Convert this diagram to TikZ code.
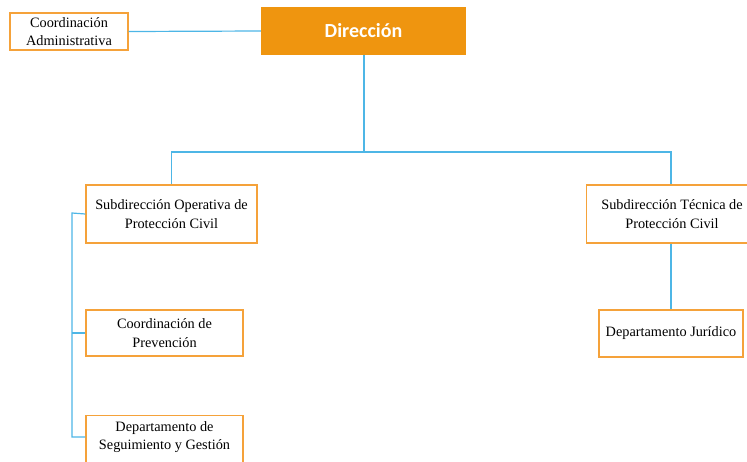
\documentclass[tikz,border=0pt]{standalone}
\usepackage{fontspec}
\setmainfont{Liberation Serif}
\newfontfamily\dirfont{Carlito}
\definecolor{boxor}{HTML}{F5A23A}
\definecolor{dirfill}{HTML}{EF950F}
\definecolor{lineblue}{HTML}{4DB6E6}
\begin{document}
\begin{tikzpicture}[x=1pt,y=-1pt,
  orgbox/.style={draw=boxor, line width=1.3pt, fill=white, align=center, font=\fontsize{14.3}{18.5}\selectfont, inner sep=0pt},
  orgtext/.style={align=center, font=\fontsize{14.3}{18.5}\selectfont, inner sep=0pt},
  link/.style={draw=lineblue, line width=1.2pt}]
\useasboundingbox (0,0) rectangle (747,461);
\clip (0,0) rectangle (747,461);
% nodes
\node[orgbox, minimum width=118pt, minimum height=37pt] (ca) at (69,31.5) {Coordinación\\Administrativa};
\node[fill=dirfill, minimum width=205pt, minimum height=48pt, inner sep=0pt, text=white, font=\dirfont\bfseries\fontsize{20}{24}\selectfont] (dir) at (363.5,31) {Dirección};
\node[orgbox, minimum width=171pt, minimum height=58pt] (so) at (171.5,214) {Subdirección Operativa de\\Protección Civil};
\node[orgbox, minimum width=176pt, minimum height=58pt, anchor=west] (st) at (586,214) {};
\node[orgtext] (stt) at (672,214) {Subdirección Técnica de\\Protección Civil};
\node[orgbox, minimum width=157pt, minimum height=46pt] (cp) at (164.5,333) {Coordinación de\\Prevención};
\node[orgbox, minimum width=157pt, minimum height=58pt, anchor=north] (ds) at (164.5,415) {};
\node[orgtext] (dst) at (164.5,437) {Departamento de\\Seguimiento y Gestión};
\node[orgbox, minimum width=144pt, minimum height=47pt] (dj) at (671,333.5) {Departamento Jurídico};
% connectors
\coordinate (bus) at (364,152);
\draw[link] (ca.east) -- (dir.west);
\draw[link] (dir.south -| bus) -- (bus) -| (so.north);
\draw[link] (bus) -| (st.north -| dj.north);
\draw[link] (st.south -| dj.north) -- (dj.north);
\coordinate (lb) at (72,213);
\draw[link] (so.west) -- (lb) |- (dst.west -| ds.west);
\draw[link] (lb |- cp.west) -- (cp.west);
\end{tikzpicture}
\end{document}
